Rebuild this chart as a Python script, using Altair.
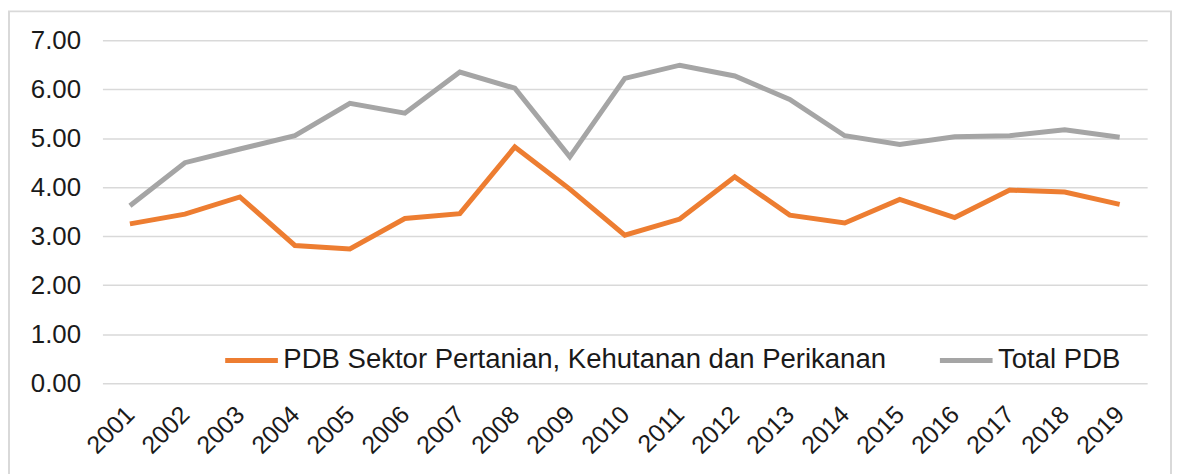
import altair as alt
import pandas as pd

years = [str(y) for y in range(2001, 2020)]
pertanian = [3.25, 3.45, 3.80, 2.81, 2.74, 3.36, 3.46, 4.82, 3.96, 3.02,
             3.35, 4.21, 3.43, 3.27, 3.75, 3.38, 3.94, 3.90, 3.65]
total = [3.62, 4.50, 4.78, 5.05, 5.71, 5.51, 6.35, 6.02, 4.62, 6.22,
         6.49, 6.27, 5.79, 5.05, 4.87, 5.03, 5.05, 5.17, 5.02]
series_names = ["PDB Sektor Pertanian, Kehutanan dan Perikanan", "Total PDB"]
series_colors = ["#ED7D31", "#A5A5A5"]
y_ticks = [0, 1, 2, 3, 4, 5, 6, 7]

rows = []
for i, y in enumerate(years):
    rows.append({"Tahun": y, "Seri": series_names[0], "Nilai": pertanian[i]})
    rows.append({"Tahun": y, "Seri": series_names[1], "Nilai": total[i]})
df = pd.DataFrame(rows)

FONT = "Liberation Sans"
TXT = "#1a1a1a"

lines = alt.Chart(df).mark_line(strokeWidth=5, strokeJoin="miter").encode(
    x=alt.X("Tahun:O", sort=years,
            scale=alt.Scale(type="point", padding=0.5),
            axis=alt.Axis(title=None, labelAngle=-45, labelAlign="right",
                          labelBaseline="middle", labelPadding=27,
                          labelFontSize=25, labelFont=FONT, labelColor=TXT,
                          domain=False, ticks=False, grid=False)),
    y=alt.Y("Nilai:Q", scale=alt.Scale(domain=[0, 7], nice=False),
            axis=alt.Axis(title=None, values=y_ticks, format=".2f",
                          labelFontSize=26, labelFont=FONT, labelColor=TXT,
                          labelPadding=22, domain=False, ticks=False,
                          gridColor="#D9D9D9", gridWidth=1.5)),
    color=alt.Color("Seri:N",
                    scale=alt.Scale(domain=series_names, range=series_colors),
                    legend=alt.Legend(title=None, orient="none", direction="horizontal",
                                      legendX=121, legendY=293,
                                      symbolType="stroke", symbolSize=2809,
                                      symbolStrokeWidth=5, labelFontSize=27.7,
                                      labelFont=FONT, labelColor=TXT, labelLimit=0,
                                      labelOffset=3, columnPadding=43)),
)

frame = alt.Chart(alt.Data(values=[{}])).mark_rect(
    fill="transparent", stroke="#D9D9D9", strokeWidth=2
).encode(
    x=alt.value(-94), x2=alt.value(1075), y=alt.value(-29), y2=alt.value(445)
)

chart = alt.layer(frame, lines).properties(
    width=1051, height=345,
    autosize=alt.AutoSizeParams(type="none"),
    padding={"left": 95, "top": 31, "right": 26, "bottom": 90},
).configure_view(stroke=None)

chart.save("out.html", embed_options={"renderer": "svg", "actions": False})
